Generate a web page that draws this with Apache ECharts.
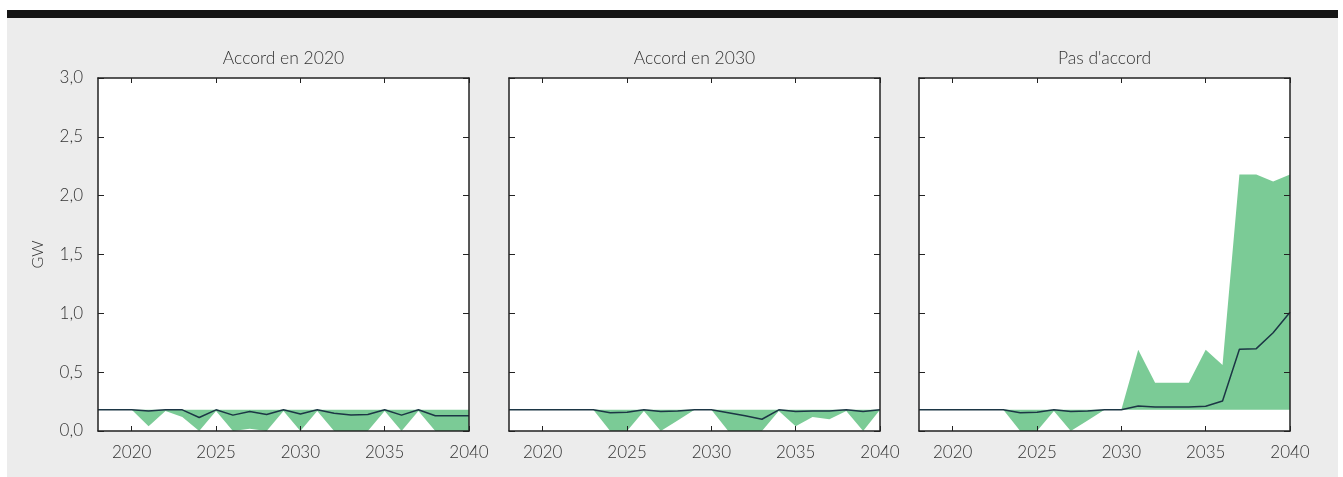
<!DOCTYPE html>
<html><head><meta charset="utf-8">
<script src="https://cdn.jsdelivr.net/npm/echarts@6/dist/echarts.min.js"></script>
<style>html,body{margin:0;padding:0;background:#fff}#c{width:1343px;height:477px}</style>
</head><body><div id="c"></div>
<script>
const years = [2018,2019,2020,2021,2022,2023,2024,2025,2026,2027,2028,2029,2030,2031,2032,2033,2034,2035,2036,2037,2038,2039,2040];
const panelTitles = ['Accord en 2020', 'Accord en 2030', "Pas d'accord"];
const yTicks = [0, 0.5, 1.0, 1.5, 2.0, 2.5, 3.0];
const yAxisName = 'GW';

// Accord en 2020
const p1High = [0.18,0.18,0.18,0.18,0.18,0.18,0.18,0.18,0.18,0.18,0.18,0.18,0.18,0.18,0.18,0.18,0.18,0.18,0.18,0.18,0.18,0.18,0.18];
const p1Low  = [0.18,0.18,0.18,0.04,0.17,0.12,0,0.17,0,0.02,0,0.17,0,0.17,0,0,0,0.17,0,0.17,0,0,0];
const p1Med  = [0.18,0.18,0.18,0.17,0.18,0.18,0.115,0.18,0.135,0.165,0.14,0.18,0.145,0.18,0.15,0.135,0.14,0.18,0.135,0.18,0.13,0.13,0.13];
// Accord en 2030
const p2High = [0.18,0.18,0.18,0.18,0.18,0.18,0.18,0.18,0.18,0.18,0.18,0.18,0.18,0.18,0.18,0.18,0.18,0.18,0.18,0.18,0.18,0.18,0.18];
const p2Low  = [0.18,0.18,0.18,0.18,0.18,0.18,0,0,0.17,0,0.09,0.18,0.18,0,0,0,0.17,0.04,0.12,0.10,0.17,0,0.18];
const p2Med  = [0.18,0.18,0.18,0.18,0.18,0.18,0.155,0.16,0.18,0.165,0.17,0.18,0.18,0.155,0.13,0.10,0.18,0.165,0.17,0.17,0.18,0.165,0.18];
// Pas d'accord
const p3High = [0.18,0.18,0.18,0.18,0.18,0.18,0.18,0.18,0.18,0.18,0.18,0.18,0.18,0.69,0.41,0.41,0.41,0.69,0.56,2.18,2.18,2.12,2.18];
const p3Low  = [0.18,0.18,0.18,0.18,0.18,0.18,0,0,0.17,0,0.09,0.18,0.18,0.18,0.18,0.18,0.18,0.18,0.18,0.18,0.18,0.18,0.18];
const p3Med  = [0.18,0.18,0.18,0.18,0.18,0.18,0.155,0.16,0.18,0.165,0.17,0.18,0.18,0.212,0.205,0.205,0.205,0.21,0.255,0.694,0.70,0.835,1.01];

const panels = [[p1High,p1Low,p1Med],[p2High,p2Low,p2Med],[p3High,p3Low,p3Med]];

const FONT = 'Lato';
const TXT = '#333';
const FRAME = '#222';
const GREEN = '#7bcb96';
const LINE = '#1c3645';
const lefts = [98, 509, 919];
const W = 371, TOP = 78, H = 353;

const grid = [], xAxis = [], yAxis = [], series = [], graphic = [];
graphic.push({type:'rect', shape:{x:7,y:10,width:1331,height:467}, style:{fill:'#ececec'}, z:-10, silent:true});
graphic.push({type:'rect', shape:{x:7,y:10,width:1331,height:8}, style:{fill:'#151515'}, z:-9, silent:true});
const isTick = (i, v) => Number(v) % 5 === 0;
panels.forEach((p, i) => {
  grid.push({left: lefts[i], top: TOP, width: W, height: H, show: true, backgroundColor: '#fff', borderWidth: 0});
  const axLine = {show: true, onZero: false, lineStyle: {color: FRAME, width: 1.5}};
  xAxis.push({type:'category', gridIndex:i, data: years, boundaryGap:false, position:'bottom', z:10,
    axisLine: axLine, axisTick:{show:true, inside:true, length:5, interval:isTick, lineStyle:{color:FRAME, width:1}},
    axisLabel:{show:true, interval:isTick, margin:13, color:TXT, fontFamily:FONT, fontSize:17, fontWeight:300},
    splitLine:{show:false}});
  xAxis.push({type:'category', gridIndex:i, data: years, boundaryGap:false, position:'top', z:10,
    axisLine: axLine, axisTick:{show:true, inside:true, length:5, interval:isTick, lineStyle:{color:FRAME, width:1}},
    axisLabel:{show:false}, splitLine:{show:false}});
  yAxis.push({type:'value', gridIndex:i, min:0, max:3, interval:0.5, position:'left', z:10,
    name: i === 0 ? yAxisName : '', nameLocation:'middle', nameGap:52, nameRotate:90,
    nameTextStyle:{color:TXT, fontFamily:FONT, fontSize:16, fontWeight:300},
    axisLine: axLine, axisTick:{show:true, inside:true, length:6, lineStyle:{color:FRAME, width:1}},
    axisLabel:{show: i === 0, margin:15, color:TXT, fontFamily:FONT, fontSize:17, fontWeight:300,
      customValues: yTicks, formatter: v => v.toFixed(1).replace('.', ',')},
    splitLine:{show:false}});
  yAxis.push({type:'value', gridIndex:i, min:0, max:3, interval:0.5, position:'right', z:10,
    axisLine: axLine, axisTick:{show:true, inside:true, length:6, lineStyle:{color:FRAME, width:1}},
    axisLabel:{show:false}, splitLine:{show:false}});
  const [hi, lo, med] = p;
  series.push({type:'line', xAxisIndex:2*i, yAxisIndex:2*i, stack:'band'+i, data: lo, symbol:'none',
    lineStyle:{opacity:0}, silent:true, z:2});
  series.push({type:'line', xAxisIndex:2*i, yAxisIndex:2*i, stack:'band'+i, data: hi.map((h, k) => +(h - lo[k]).toFixed(4)), symbol:'none',
    lineStyle:{opacity:0}, areaStyle:{color:GREEN, opacity:1}, silent:true, z:2});
  series.push({type:'line', xAxisIndex:2*i, yAxisIndex:2*i, data: med, symbol:'none',
    lineStyle:{color:LINE, width:1.5}, silent:true, z:3});
  graphic.push({type:'text', x: lefts[i] + W/2, y: 58, style:{text: panelTitles[i], textAlign:'center', textVerticalAlign:'middle',
    fill: TXT, font: '300 17.5px ' + FONT}, z: 5});
});

const chart = echarts.init(document.getElementById('c'), null, {renderer:'canvas'});
chart.setOption({animation:false, grid, xAxis, yAxis, series, graphic});
</script></body></html>
